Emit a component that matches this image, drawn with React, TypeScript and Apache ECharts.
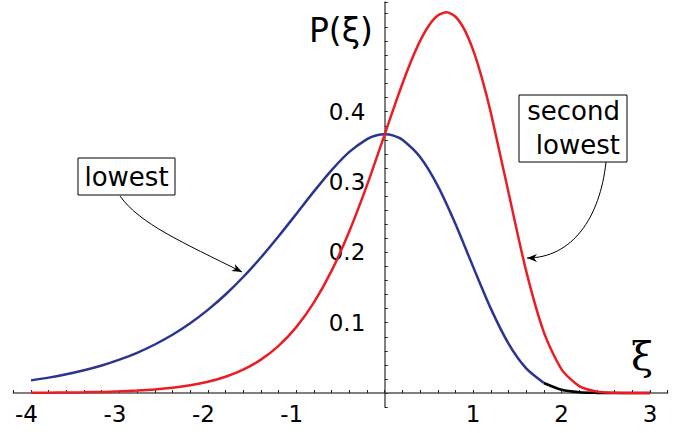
import React, { useEffect, useRef } from "react";
import * as echarts from "echarts";

// lowest eigenvalue distribution (blue), tail drawn in black
const xLowest = [-4, -3.8, -3.6, -3.4, -3.2, -3, -2.8, -2.6, -2.4, -2.2, -2, -1.8, -1.6, -1.4, -1.2, -1, -0.8, -0.6, -0.4, -0.2, -0.1, 0, 0.1, 0.2, 0.4, 0.6, 0.8, 1, 1.2, 1.4, 1.6, 1.8];
const pLowest = [0.018, 0.0219, 0.0266, 0.0323, 0.0391, 0.0474, 0.0572, 0.069, 0.0828, 0.0992, 0.1182, 0.1401, 0.165, 0.1927, 0.2229, 0.2546, 0.2867, 0.317, 0.3429, 0.3611, 0.3662, 0.3679, 0.366, 0.3601, 0.3356, 0.2946, 0.2404, 0.1794, 0.12, 0.0703, 0.035, 0.0143];
const xTail = [1.8, 2, 2.2, 2.4, 2.6, 2.8, 3];
const pTail = [0.0143, 0.0046, 0.0011, 0.0002, 0, 0, 0];
// second lowest (red)
const xSecond = [-4, -3.8, -3.6, -3.4, -3.2, -3, -2.8, -2.6, -2.4, -2.2, -2, -1.8, -1.6, -1.4, -1.2, -1, -0.8, -0.6, -0.4, -0.2, 0, 0.1, 0.2, 0.3, 0.4, 0.5, 0.6, 0.7, 0.8, 0.9, 1, 1.1, 1.2, 1.4, 1.6, 1.8, 2, 2.2, 2.4, 2.6, 2.8, 3];
const pSecond = [0.0003, 0.0005, 0.0007, 0.0011, 0.0016, 0.0024, 0.0035, 0.0051, 0.0075, 0.011, 0.016, 0.0232, 0.0333, 0.0475, 0.0671, 0.0937, 0.1288, 0.174, 0.23, 0.2956, 0.3679, 0.4045, 0.4398, 0.4724, 0.5007, 0.5227, 0.5368, 0.5413, 0.535, 0.5171, 0.4876, 0.4474, 0.3985, 0.285, 0.1733, 0.0863, 0.0337, 0.0098, 0.002, 0.0003, 0, 0];

const xLabelValues = [-4, -3, -2, -1, 1, 2, 3];
const yLabelValues = [0.1, 0.2, 0.3, 0.4];

const zip = (xs: number[], ys: number[]) => xs.map((x, i) => [x, ys[i]]);
const near = (v: number, list: number[]) => list.find((t) => Math.abs(t - v) < 1e-6);

const FONT = "DejaVu Sans";

function arrowHead(tx: number, ty: number, fx: number, fy: number) {
  const dx = tx - fx, dy = ty - fy;
  const len = Math.hypot(dx, dy);
  const ux = dx / len, uy = dy / len;
  const nx = -uy, ny = ux;
  const L = 10, W = 4, N = 7;
  return [
    [tx, ty],
    [tx - L * ux + W * nx, ty - L * uy + W * ny],
    [tx - N * ux, ty - N * uy],
    [tx - L * ux - W * nx, ty - L * uy - W * ny],
  ];
}

export default function App() {
  const ref = useRef<HTMLDivElement>(null);
  useEffect(() => {
    if (!ref.current) return;
    const chart = echarts.init(ref.current, null, { renderer: "svg" });
    const axisColor = "#555";
    const a1 = { x1: 120, y1: 196, cpx1: 140, cpy1: 224, cpx2: 182, cpy2: 242, x2: 242, y2: 272 };
    const a2 = { x1: 606, y1: 162, cpx1: 600, cpy1: 218, cpx2: 572, cpy2: 258, x2: 527, y2: 258 };
    chart.setOption({
      animation: false,
      backgroundColor: "#fff",
      grid: { left: 13.3, right: 27.3, top: 2, bottom: 25.9, containLabel: false, outerBoundsMode: "none" },
      xAxis: {
        type: "value",
        min: -4.2,
        max: 3.2,
        interval: 0.2,
        axisLine: { onZero: true, lineStyle: { color: axisColor, width: 1.5 } },
        axisTick: { inside: true, length: 3, lineStyle: { color: "#222", width: 1 } },
        axisLabel: {
          interval: 0,
          hideOverlap: false,
          margin: -5,
          fontFamily: FONT,
          fontSize: 23,
          color: "#000",
          formatter: (v: number) => {
            const t = near(v, xLabelValues);
            if (t === undefined) return "";
            return t < 0 ? `{n|${t}}` : `{p|${t}}`;
          },
          rich: {
            n: { fontFamily: FONT, fontSize: 23, color: "#000", padding: [0, 9, 0, 0] },
            p: { fontFamily: FONT, fontSize: 23, color: "#000" },
          },
        },
        splitLine: { show: false },
      },
      yAxis: {
        type: "value",
        min: -0.02,
        max: 0.556,
        interval: 0.02,
        axisLine: { onZero: true, lineStyle: { color: axisColor, width: 1.5 } },
        axisTick: { inside: true, length: 3, lineStyle: { color: "#222", width: 1 } },
        axisLabel: {
          interval: 0,
          hideOverlap: false,
          margin: -352,
          fontFamily: FONT,
          fontSize: 23,
          color: "#000",
          formatter: (v: number) => {
            const t = near(v, yLabelValues);
            return t === undefined ? "" : t.toFixed(1);
          },
        },
        splitLine: { show: false },
      },
      series: [
        {
          name: "lowest tail",
          type: "line",
          data: zip(xTail, pTail),
          showSymbol: false,
          smooth: 0.25,
          lineStyle: { color: "#000", width: 2.5 },
          z: 2,
        },
        {
          name: "lowest",
          type: "line",
          data: zip(xLowest, pLowest),
          showSymbol: false,
          smooth: 0.25,
          lineStyle: { color: "#2b3590", width: 2.5 },
          z: 3,
        },
        {
          name: "second lowest",
          type: "line",
          data: zip(xSecond, pSecond),
          showSymbol: false,
          smooth: 0.25,
          lineStyle: { color: "#ed1c24", width: 2.5 },
          z: 4,
        },
      ],
      graphic: [
        {
          type: "text",
          x: 373,
          y: 30,
          style: {
            text: "P(ξ)",
            font: `33px "${FONT}"`,
            fill: "#000",
            align: "right",
            verticalAlign: "middle",
          },
        },
        {
          type: "text",
          x: 642,
          y: 356,
          style: {
            text: "ξ",
            font: `40px "DejaVu Serif"`,
            fill: "#000",
            align: "center",
            verticalAlign: "middle",
          },
        },
        {
          type: "rect",
          shape: { x: 78, y: 158, width: 97, height: 37 },
          style: { fill: "#fff", stroke: "#000", lineWidth: 1 },
        },
        {
          type: "text",
          x: 126.5,
          y: 176.5,
          style: {
            text: "lowest",
            font: `26px "${FONT}"`,
            fill: "#000",
            align: "center",
            verticalAlign: "middle",
          },
        },
        {
          type: "rect",
          shape: { x: 519, y: 95, width: 108, height: 67 },
          style: { fill: "#fff", stroke: "#000", lineWidth: 1 },
        },
        {
          type: "text",
          x: 620,
          y: 111,
          style: { text: "second", font: `26px "${FONT}"`, fill: "#000", align: "right", verticalAlign: "middle" },
        },
        {
          type: "text",
          x: 620,
          y: 145,
          style: { text: "lowest", font: `26px "${FONT}"`, fill: "#000", align: "right", verticalAlign: "middle" },
        },
        {
          type: "bezierCurve",
          shape: a1,
          style: { stroke: "#000", lineWidth: 1, fill: null },
        },
        {
          type: "polygon",
          shape: { points: arrowHead(a1.x2, a1.y2, a1.cpx2, a1.cpy2) },
          style: { fill: "#000" },
        },
        {
          type: "bezierCurve",
          shape: a2,
          style: { stroke: "#000", lineWidth: 1, fill: null },
        },
        {
          type: "polygon",
          shape: { points: arrowHead(a2.x2, a2.y2, a2.cpx2, a2.cpy2) },
          style: { fill: "#000" },
        },
      ],
    });
    return () => chart.dispose();
  }, []);
  return (
    <div
      ref={ref}
      style={{ position: "fixed", left: 0, top: 0, width: 695, height: 433 }}
    />
  );
}
